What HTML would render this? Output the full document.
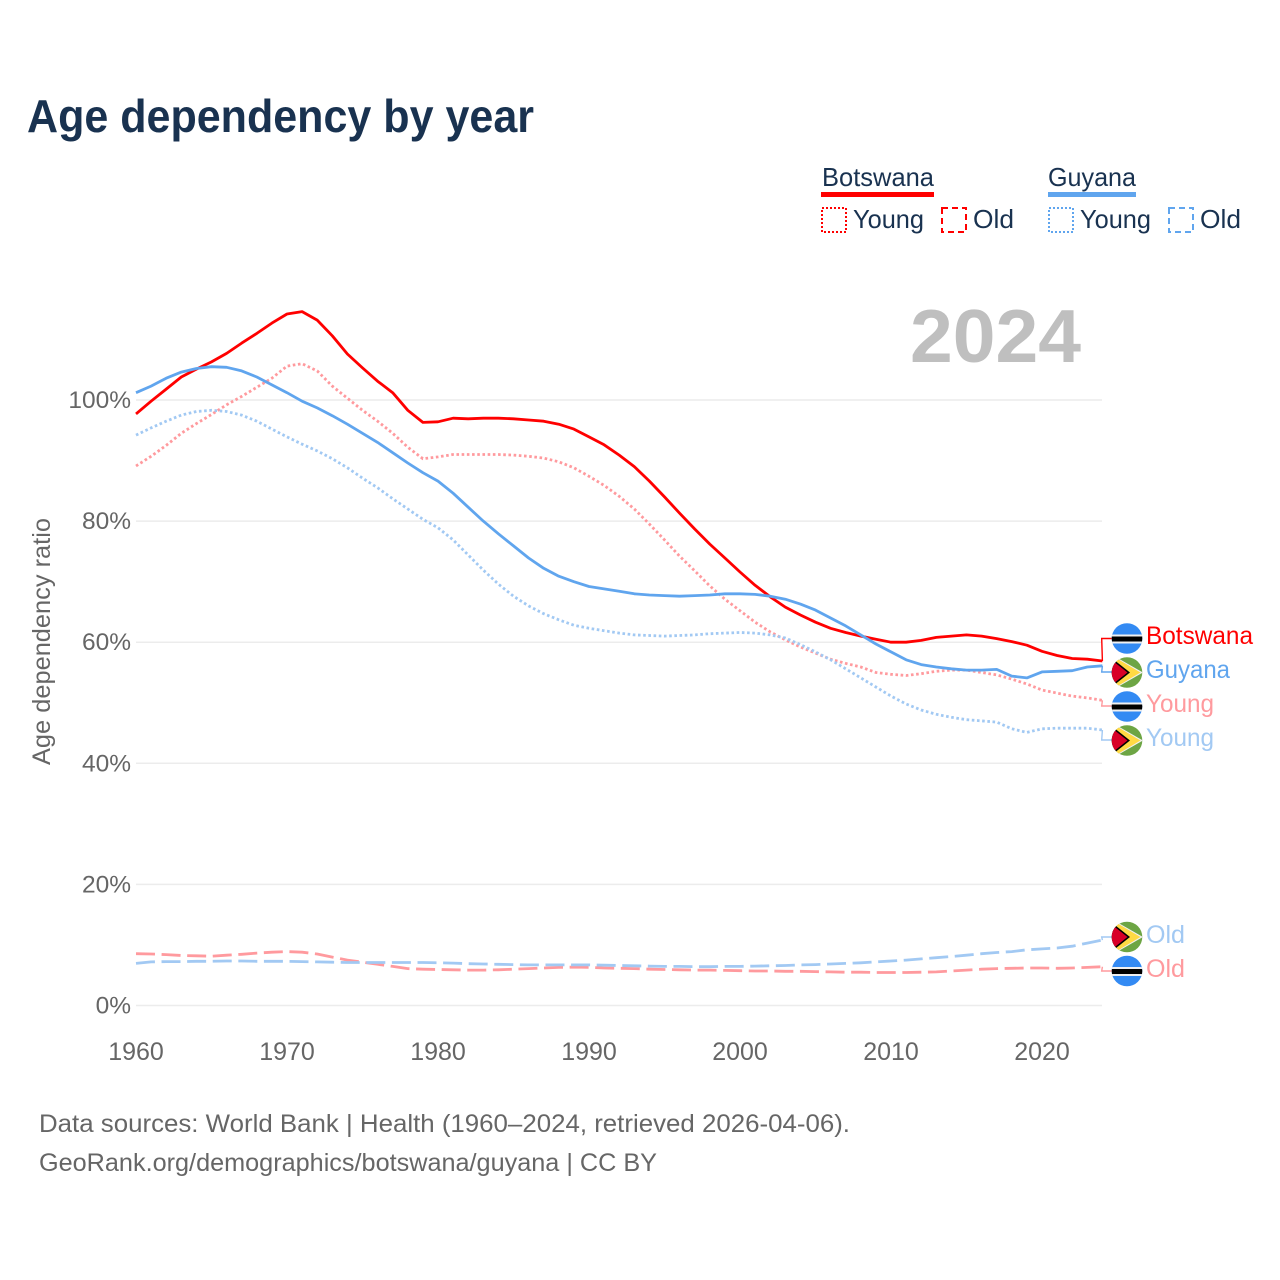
<!DOCTYPE html>
<html lang="en">
<head>
<meta charset="utf-8">
<title>Age dependency by year</title>
<style>
html,body{margin:0;padding:0;background:#fff}
svg{display:block}
text{font-family:"Liberation Sans",sans-serif}
</style>
</head>
<body>
<svg id="chart" width="1280" height="1280" viewBox="0 0 1280 1280" xmlns="http://www.w3.org/2000/svg">
  <defs>
    <clipPath id="flag-clip"><circle cx="0" cy="0" r="15.3"/></clipPath>
    <g id="flag-bw">
      <g clip-path="url(#flag-clip)">
        <rect x="-16" y="-16" width="32" height="32" fill="#338af3"/>
        <rect x="-16" y="-4" width="32" height="9" fill="#f0f0f0"/>
        <rect x="-16" y="-2" width="32" height="5" fill="#000"/>
      </g>
    </g>
    <g id="flag-gy">
      <g clip-path="url(#flag-clip)">
        <rect x="-16" y="-16" width="32" height="32" fill="#6da544"/>
        <polygon points="-12,-16 16,0 -12,16" fill="#f0f0f0"/>
        <polygon points="-11,-14.5 13.5,0 -11,14.5" fill="#ffda44"/>
        <polygon points="-16,-15 3,0 -16,15" fill="#000"/>
        <polygon points="-16,-13 0.5,0 -16,13" fill="#d80027"/>
      </g>
    </g>
  </defs>

  <text x="27" y="132" font-size="46" font-weight="700" fill="#193250" textLength="507" lengthAdjust="spacingAndGlyphs">Age dependency by year</text>

  <g fill="#193250" font-size="26">
    <text x="822" y="186" textLength="112" lengthAdjust="spacingAndGlyphs">Botswana</text>
    <rect x="821" y="192" width="113" height="5" fill="#ff0000"/>
    <text x="1048" y="186" textLength="88" lengthAdjust="spacingAndGlyphs">Guyana</text>
    <rect x="1048" y="192" width="88" height="5" fill="#60a5ee"/>

    <rect x="822" y="208" width="24" height="24" fill="none" stroke="#ff0000" stroke-width="2" stroke-dasharray="2 2"/>
    <text x="853" y="228" textLength="71" lengthAdjust="spacingAndGlyphs">Young</text>
    <rect x="942" y="208" width="24" height="24" fill="none" stroke="#ff0000" stroke-width="2" stroke-dasharray="6 4"/>
    <text x="973" y="228" textLength="41" lengthAdjust="spacingAndGlyphs">Old</text>
    <rect x="1049" y="208" width="24" height="24" fill="none" stroke="#60a5ee" stroke-width="2" stroke-dasharray="2 2"/>
    <text x="1080" y="228" textLength="71" lengthAdjust="spacingAndGlyphs">Young</text>
    <rect x="1169" y="208" width="24" height="24" fill="none" stroke="#60a5ee" stroke-width="2" stroke-dasharray="6 4"/>
    <text x="1200" y="228" textLength="41" lengthAdjust="spacingAndGlyphs">Old</text>
  </g>

  <text x="910" y="362" font-size="75" font-weight="700" fill="#bfbfbf" textLength="171" lengthAdjust="spacingAndGlyphs">2024</text>

  <g id="grid"></g>
  <g id="y-ticks"></g>
  <g id="x-ticks"></g>

  <text transform="translate(50,765) rotate(-90)" font-size="25" fill="#666666" textLength="247" lengthAdjust="spacingAndGlyphs">Age dependency ratio</text>

  <g id="connectors"></g>
  <g id="series"></g>

  <g font-size="25">
    <use href="#flag-bw" x="1127" y="638.5"/>
    <use href="#flag-gy" x="1127" y="672.5"/>
    <use href="#flag-bw" x="1127" y="706.5"/>
    <use href="#flag-gy" x="1127" y="740.5"/>
    <use href="#flag-gy" x="1127" y="937"/>
    <use href="#flag-bw" x="1127" y="971"/>
    <text x="1146" y="644" fill="#ff0000" textLength="107" lengthAdjust="spacingAndGlyphs">Botswana</text>
    <text x="1146" y="678" fill="#60a5ee" textLength="84" lengthAdjust="spacingAndGlyphs">Guyana</text>
    <text x="1146" y="712" fill="#ff9a9e" textLength="68" lengthAdjust="spacingAndGlyphs">Young</text>
    <text x="1146" y="746" fill="#a2c9f3" textLength="68" lengthAdjust="spacingAndGlyphs">Young</text>
    <text x="1146" y="943" fill="#a2c9f3" textLength="39" lengthAdjust="spacingAndGlyphs">Old</text>
    <text x="1146" y="977" fill="#ff9a9e" textLength="39" lengthAdjust="spacingAndGlyphs">Old</text>
  </g>

  <g font-size="25" fill="#666666">
    <text x="39" y="1132" textLength="811" lengthAdjust="spacingAndGlyphs">Data sources: World Bank | Health (1960–2024, retrieved 2026-04-06).</text>
    <text x="39" y="1171" textLength="618" lengthAdjust="spacingAndGlyphs">GeoRank.org/demographics/botswana/guyana | CC BY</text>
  </g>
</svg>

<script>
const firstYear = 1960;
const xTickYears = [1960, 1970, 1980, 1990, 2000, 2010, 2020];
const yTickValues = [0, 20, 40, 60, 80, 100];

const botswanaTotal = [97.7,99.8,101.8,103.8,105.1,106.3,107.7,109.4,111,112.7,114.2,114.6,113.2,110.6,107.6,105.3,103.1,101.2,98.3,96.3,96.4,97,96.9,97,97,96.9,96.7,96.5,96,95.2,93.9,92.6,90.9,89,86.6,84,81.3,78.7,76.2,73.9,71.6,69.4,67.5,65.8,64.5,63.3,62.3,61.6,61,60.5,60,60,60.3,60.8,61,61.2,61,60.6,60.1,59.5,58.5,57.8,57.3,57.2,56.9];
const guyanaTotal = [101.2,102.3,103.6,104.6,105.2,105.5,105.4,104.8,103.8,102.5,101.2,99.8,98.7,97.4,96,94.5,93,91.3,89.6,88,86.6,84.6,82.3,80,77.9,75.9,73.9,72.2,70.9,70,69.2,68.8,68.4,68,67.8,67.7,67.6,67.7,67.8,68,68,67.9,67.6,67.1,66.3,65.3,64,62.7,61.2,59.7,58.4,57.1,56.3,55.9,55.6,55.4,55.4,55.5,54.4,54.1,55.1,55.2,55.3,55.9,56.1];
const botswanaYoung = [89.1,90.7,92.5,94.5,96.1,97.6,99.2,100.6,102.1,103.6,105.6,106,104.8,102.3,100.3,98.3,96.5,94.5,92.2,90.3,90.6,91,91,91,91,90.9,90.7,90.4,89.8,88.8,87.4,85.9,84.1,82,79.5,76.9,74.2,71.8,69.3,67.1,65.2,63.3,61.7,60.4,59.2,58.2,57.2,56.5,55.9,55,54.7,54.5,54.8,55.2,55.4,55.4,55,54.6,53.9,53.1,52.1,51.6,51.1,50.8,50.4];
const guyanaYoung = [94.2,95.4,96.5,97.5,98.1,98.3,98.1,97.5,96.5,95.2,93.9,92.7,91.6,90.3,88.8,87.1,85.5,83.7,82,80.3,78.9,76.9,74.4,71.9,69.6,67.6,66,64.7,63.7,62.8,62.3,61.9,61.5,61.2,61.1,61,61.1,61.2,61.4,61.5,61.6,61.5,61.2,60.7,59.6,58.4,57.1,55.6,54.1,52.6,51.1,49.8,48.8,48.1,47.6,47.2,47,46.8,45.7,45.1,45.7,45.8,45.8,45.8,45.5];
const botswanaOld = [8.55,8.5,8.4,8.25,8.2,8.15,8.3,8.45,8.65,8.8,8.9,8.8,8.5,8,7.5,7.15,6.8,6.45,6.1,6,5.95,5.9,5.85,5.85,5.9,6,6.1,6.2,6.3,6.35,6.3,6.2,6.15,6.1,6,5.95,5.9,5.85,5.85,5.8,5.75,5.7,5.7,5.65,5.65,5.6,5.55,5.5,5.5,5.45,5.45,5.45,5.5,5.55,5.7,5.85,6,6.1,6.15,6.2,6.2,6.15,6.2,6.3,6.4];
const guyanaOld = [6.95,7.2,7.25,7.25,7.3,7.3,7.35,7.35,7.3,7.3,7.3,7.25,7.2,7.15,7.1,7.1,7.1,7.1,7.1,7.1,7.05,7,6.9,6.85,6.8,6.75,6.7,6.7,6.7,6.7,6.7,6.65,6.6,6.55,6.5,6.45,6.45,6.4,6.4,6.45,6.45,6.5,6.55,6.6,6.7,6.75,6.85,6.95,7.05,7.2,7.35,7.5,7.7,7.9,8.1,8.3,8.55,8.75,8.9,9.2,9.35,9.5,9.8,10.3,10.8];

const NS = 'http://www.w3.org/2000/svg';
function xScale(year) { return 136 + (year - 1960) * 15.1; }
function yScale(pct) { return 1005.5 - pct * 6.055; }

const grid = document.getElementById('grid');
const yTicks = document.getElementById('y-ticks');
const xTicks = document.getElementById('x-ticks');
const seriesLayer = document.getElementById('series');
const connectorLayer = document.getElementById('connectors');

yTickValues.forEach(function (v) {
  const line = document.createElementNS(NS, 'line');
  
  
  line.setAttribute('x1', 136);
  line.setAttribute('x2', 1102);
  line.setAttribute('y1', yScale(v));
  line.setAttribute('y2', yScale(v));
  line.setAttribute('stroke', '#ececec');
  line.setAttribute('stroke-width', 1.5);
  grid.appendChild(line);

  const label = document.createElementNS(NS, 'text');
  
  
  label.setAttribute('x', 131);
  label.setAttribute('y', yScale(v) + 8);
  label.setAttribute('text-anchor', 'end');
  label.setAttribute('font-size', 24.5);
  label.setAttribute('fill', '#666666');
  label.textContent = v + '%';
  yTicks.appendChild(label);
});

xTickYears.forEach(function (yr) {
  const label = document.createElementNS(NS, 'text');
  
  
  label.setAttribute('x', xScale(yr));
  label.setAttribute('y', 1060);
  label.setAttribute('text-anchor', 'middle');
  label.setAttribute('font-size', 25);
  label.setAttribute('fill', '#666666');
  label.textContent = yr;
  xTicks.appendChild(label);
});

function drawSeries(values, name, color, dash, labelY) {
  const pts = values.map(function (v, i) {
    return xScale(firstYear + i).toFixed(1) + ',' + yScale(v).toFixed(1);
  });
  const path = document.createElementNS(NS, 'polyline');
  
  
  path.setAttribute('points', pts.join(' '));
  path.setAttribute('fill', 'none');
  path.setAttribute('stroke', color);
  path.setAttribute('stroke-width', 2.8);
  path.setAttribute('stroke-linejoin', 'round');
  if (dash) path.setAttribute('stroke-dasharray', dash);
  seriesLayer.appendChild(path);

  const endX = xScale(firstYear + values.length - 1);
  const endY = yScale(values[values.length - 1]);
  const conn = document.createElementNS(NS, 'polyline');
  
  
  conn.setAttribute('points', endX.toFixed(1) + ',' + endY.toFixed(1) + ' 1101.7,' + labelY + ' 1112,' + labelY);
  conn.setAttribute('fill', 'none');
  conn.setAttribute('stroke', color);
  conn.setAttribute('stroke-width', 1.4);
  connectorLayer.appendChild(conn);
}

const PINK = '#ff9a9e';
const SKY = '#a2c9f3';
const DOT = '2.6 2.6';
const DASH = '19 6.6';
drawSeries(botswanaOld, 'line-botswana-old', PINK, DASH, 971);
drawSeries(guyanaOld, 'line-guyana-old', SKY, DASH, 937);
drawSeries(botswanaYoung, 'line-botswana-young', PINK, DOT, 706);
drawSeries(guyanaYoung, 'line-guyana-young', SKY, DOT, 740);
drawSeries(botswanaTotal, 'line-botswana-total', '#ff0000', null, 638.5);
drawSeries(guyanaTotal, 'line-guyana-total', '#60a5ee', null, 672);
</script>
</body>
</html>
